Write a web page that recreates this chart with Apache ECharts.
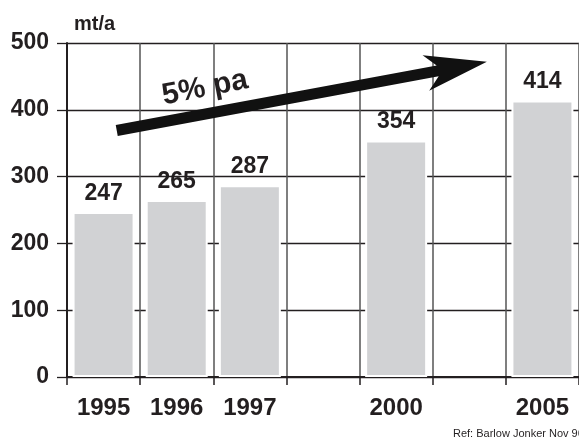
<!DOCTYPE html>
<html><head><meta charset="utf-8">
<script src="https://cdn.jsdelivr.net/npm/echarts@6/dist/echarts.min.js"></script>
<style>html,body{margin:0;padding:0;background:#fff}#c{width:579px;height:441px}</style>
</head><body><div id="c"></div>
<script>
const categories = ['1995', '1996', '1997', '', '2000', ' ', '2005'];
const values = [247, 265, 287, null, 354, null, 414];
const yTicks = [0, 100, 200, 300, 400, 500];
const unitLabel = 'mt/a';
const arrowX = [0.18, 5.24];   // position along the category slots
const arrowY = [369, 472];     // value-axis units
const arrowText = '5% pa';
const sourceNote = 'Ref: Barlow Jonker Nov 96';

const ink = '#231f20';
const font = '"Liberation Sans", Arial, Helvetica, sans-serif';
const chart = echarts.init(document.getElementById('c'), null, {renderer: 'canvas'});

chart.setOption({
  animation: false,
  backgroundColor: '#fff',
  grid: {left: 67, right: 0, top: 43, bottom: 64, containLabel: false},
  xAxis: [{
    type: 'category', data: categories, boundaryGap: true,
    axisLine: {show: true, onZero: false, lineStyle: {color: ink, width: 2}},
    axisTick: {show: true, interval: 0, length: 8, lineStyle: {color: ink, width: 1.5}},
    axisLabel: {interval: 0, margin: 19, fontSize: 24, fontWeight: 'bold', color: ink, fontFamily: font},
    splitLine: {show: true, interval: 0, lineStyle: {color: '#555', width: 1.5}}
  }, {
    type: 'value', min: -0.5, max: 6.5, show: false, gridIndex: 0,
    axisLine: {onZero: false}
  }],
  yAxis: {
    type: 'value', min: yTicks[0], max: yTicks[yTicks.length - 1], interval: 100,
    name: unitLabel, nameLocation: 'end', nameGap: 9,
    nameTextStyle: {fontSize: 20, fontWeight: 'bold', color: ink, fontFamily: font, align: 'left', padding: [0, 0, 0, 7]},
    axisLine: {show: true, onZero: false, lineStyle: {color: ink, width: 2}},
    axisTick: {show: true, length: 10, lineStyle: {color: ink, width: 1.3}},
    axisLabel: {margin: 18, fontSize: 23, fontWeight: 'bold', color: ink, fontFamily: font},
    splitLine: {show: true, lineStyle: {color: ink, width: 1.3}}
  },
  series: [{
    type: 'bar', xAxisIndex: 0, data: values, barWidth: 62,
    itemStyle: {color: '#d1d2d4', borderColor: '#fff', borderWidth: 2},
    label: {show: true, position: 'top', distance: 7, fontSize: 23, fontWeight: 'bold', color: ink, fontFamily: font}
  }]
});

function drawArrow() {
  const sx = chart.convertToPixel({xAxisIndex: 1}, arrowX[0]);
  const tx = chart.convertToPixel({xAxisIndex: 1}, arrowX[1]);
  const sy = chart.convertToPixel({yAxisIndex: 0}, arrowY[0]);
  const ty = chart.convertToPixel({yAxisIndex: 0}, arrowY[1]);
  const dx = tx - sx, dy = ty - sy, len = Math.hypot(dx, dy);
  const ux = dx / len, uy = dy / len;
  const nx = uy, ny = -ux; // normal
  const hw = 5.5, headLen = 62, headHalf = 18, joinBack = 50;
  const p = (d, n) => [sx + ux * d + nx * n, sy + uy * d + ny * n];
  const pts = [
    p(0, hw), p(len - joinBack, hw), p(len - headLen, headHalf), p(len, 0),
    p(len - headLen, -headHalf), p(len - joinBack, -hw), p(0, -hw)
  ];
  const ang = Math.atan2(-dy, dx);
  chart.setOption({
    graphic: [
      {type: 'polygon', shape: {points: pts}, style: {fill: '#111'}, z: 100},
      {type: 'text', x: 205, y: 88, rotation: ang + 0.01,
       style: {text: arrowText, fontSize: 30, fontWeight: 'bold', fill: ink, fontFamily: font, align: 'center', verticalAlign: 'middle'}, z: 100},
      {type: 'text', x: 453, y: 434,
       style: {text: sourceNote, fontSize: 11, fill: ink, fontFamily: font, align: 'left', verticalAlign: 'middle'}, z: 100}
    ]
  });
}
drawArrow();
</script>
</body></html>
